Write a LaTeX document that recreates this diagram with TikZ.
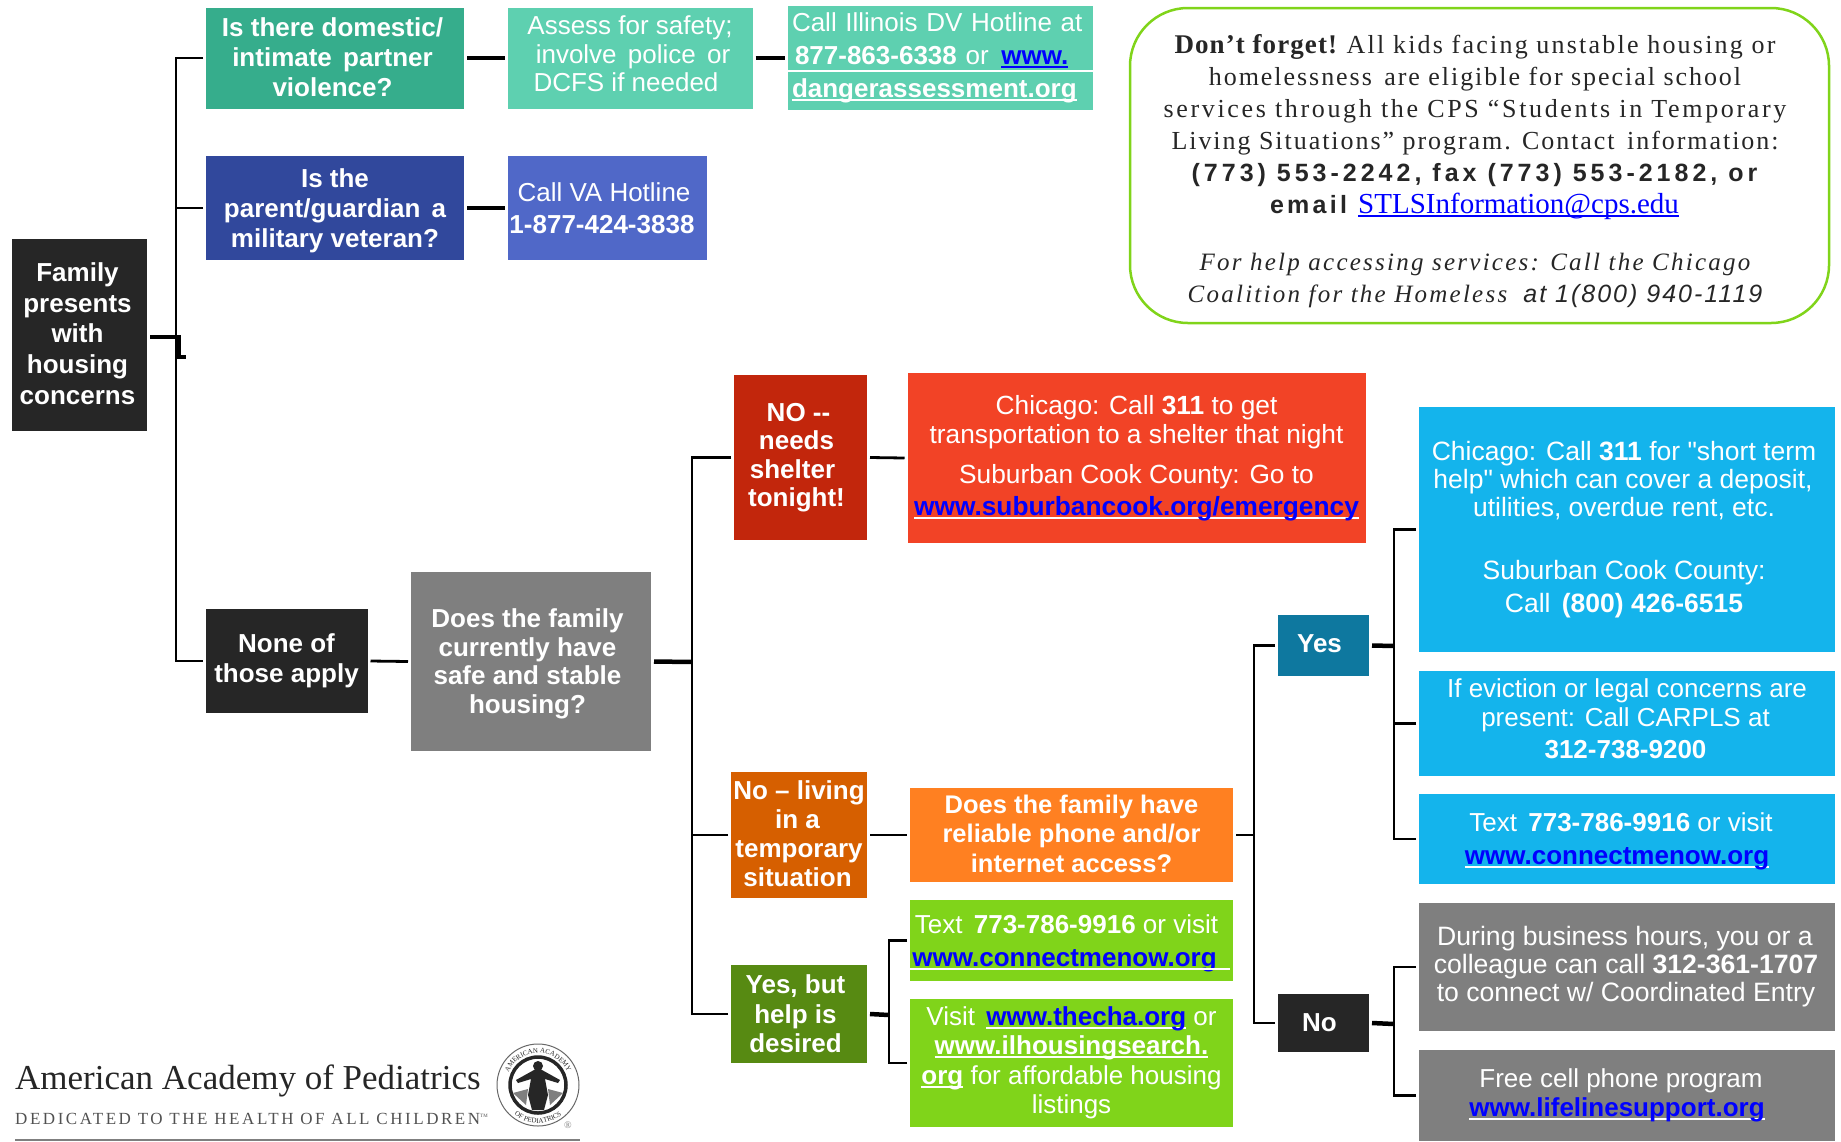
\documentclass[tikz,border=0pt]{standalone}
\usepackage{fontspec}
\setmainfont{Liberation Sans}
\newfontfamily\serifnote{Liberation Serif}
\newfontfamily\serifspaced[LetterSpace=8.5]{Liberation Serif}
\newfontfamily\sansspaced[LetterSpace=16]{Liberation Sans}
\usetikzlibrary{positioning,calc,decorations.text}
\definecolor{tealdark}{HTML}{36AD8C}
\definecolor{teallight}{HTML}{5ED0B0}
\definecolor{navydark}{HTML}{31489C}
\definecolor{navylight}{HTML}{5068C8}
\definecolor{inkblack}{HTML}{262626}
\definecolor{midgray}{HTML}{7F7F7F}
\definecolor{reddark}{HTML}{C2260C}
\definecolor{redlight}{HTML}{F24326}
\definecolor{orangedark}{HTML}{D65F00}
\definecolor{orangelight}{HTML}{FF8021}
\definecolor{greendark}{HTML}{578A12}
\definecolor{greenlight}{HTML}{80D41A}
\definecolor{bluedark}{HTML}{0E789F}
\definecolor{bluelight}{HTML}{14B4EC}
\definecolor{linkblue}{HTML}{0000FF}
\newcommand{\boxfont}[2]{\fontsize{#1}{#2}\selectfont}
\newcommand{\widegap}{\hspace{4pt} }
\newcommand{\lineleft}[1]{\rule{#1pt}{0pt}}
\newcommand{\droptext}[1]{\rule[-#1pt]{0pt}{0pt}}
\newcommand{\risetext}[1]{\rule{0pt}{#1pt}}
\newsavebox{\linkbox}
\newcommand{\weblink}[2][white]{\sbox{\linkbox}{#2}\leavevmode\rlap{\textcolor{#1}{\rule[-3.5pt]{\wd\linkbox}{2pt}}}\usebox{\linkbox}}
\newcommand{\bluelink}[2][white]{\weblink[#1]{\textcolor{linkblue}{#2}}}

\begin{document}
\begin{tikzpicture}[x=1pt,y=-1pt]
\tikzset{
    headbox/.style={rectangle, inner sep=0pt, outer sep=3pt, text=white, align=center, font=\boxfont{26}{30}\bfseries},
    infobox/.style={rectangle, inner sep=0pt, outer sep=3pt, text=white, align=center, font=\boxfont{26}{30}},
    boxsize/.style 2 args={minimum width=#1, minimum height=#2},
    wire/.style={draw=black, line width=2.8pt},
    thickwire/.style={draw=black, line width=3.2pt},
    heavywire/.style={draw=black, line width=4.5pt},
    logotext/.style={inner sep=0pt, text=inkblack, anchor=base west}
}
\useasboundingbox (0,0) rectangle (1841,1141);

\node[headbox, fill=inkblack, boxsize={135}{192}, font=\boxfont{26}{30.7}\bfseries] (family) at (79.5,335) {Family\lineleft{4}\\presents\lineleft{4}\\with\lineleft{4}\\housing\lineleft{4}\\concerns\lineleft{4}\droptext{3}};

\node[headbox, fill=tealdark, boxsize={258}{101}] (ipv) at (335,58) {Is there domestic/\lineleft{5}\\intimate\widegap partner\lineleft{5}\\violence?\lineleft{5}\droptext{2}};
\node[infobox, fill=teallight, boxsize={245}{101}, font=\boxfont{26}{28.5}] (assess) at (630,58) {Assess for safety;\\\lineleft{6}involve\widegap police\widegap or\\DCFS if needed\lineleft{8}\droptext{8}};
\node[infobox, fill=teallight, boxsize={305}{104}, align=left, text width=297pt, font=\boxfont{26}{33}] (dvhot) at (940.5,58) {Call Illinois DV Hotline at\\\hspace*{3pt}\textbf{877-863-6338} or\widegap \textbf{\bluelink[linkblue]{www.}}\\\textbf{\weblink{dangerassessment.org}}};

\node[headbox, fill=navydark, boxsize={258}{104}] (vet) at (335,208) {\risetext{24}Is the\\parent/guardian\widegap a\\military veteran?};
\node[infobox, fill=navylight, boxsize={199}{104}, font=\boxfont{26}{31.5}] (vahot) at (607,208) {Call VA Hotline\lineleft{6}\\\textbf{1-877-424-3838}\lineleft{10}};

\node[draw=greenlight, line width=2.5pt, rounded corners=58pt, fill=white, boxsize={699}{315}, inner sep=0pt, text=inkblack, align=center, font=\boxfont{26}{32}] (reminder) at (1479.5,165.5) {\risetext{30}{\serifspaced\bfseries\boxfont{27}{32}\addfontfeature{LetterSpace=4} Don’t forget!} {\serifspaced All kids facing unstable housing or}\lineleft{9}\\{\serifspaced\addfontfeature{LetterSpace=7.5} homelessness\widegap are eligible for special school}\lineleft{9}\\{\serifspaced\addfontfeature{LetterSpace=10.2} services through the CPS “Students in Temporary}\lineleft{9}\\{\serifspaced\addfontfeature{LetterSpace=7.5} Living Situations” program. Contact\widegap information:}\lineleft{9}\\{\sansspaced\bfseries\boxfont{25}{32}(773) 553-2242, fax (773) 553-2182, or}\lineleft{10}\\{\sansspaced\bfseries\boxfont{25}{32}\addfontfeature{LetterSpace=13} email} \hspace{4pt}{\serifnote\boxfont{29}{32}\bluelink[linkblue]{STLSInformation@cps.edu}}\lineleft{10}\\[25pt]{\serifspaced\itshape\boxfont{25}{32}\addfontfeature{LetterSpace=9} For help accessing services: Call the Chicago}\lineleft{9}\\{\serifspaced\itshape\boxfont{25}{32}\addfontfeature{LetterSpace=9} Coalition for the Homeless} {\itshape\addfontfeature{LetterSpace=8}\boxfont{25}{32} at 1(800) 940-1119}\lineleft{9}};

\node[headbox, fill=inkblack, boxsize={162}{104}] (none) at (286.5,661) {None of\\those apply};
\node[headbox, fill=midgray, boxsize={240}{179}, font=\boxfont{26}{28.5}\bfseries] (housing) at (531,661.5) {\risetext{23}Does the family\lineleft{7}\\currently have\lineleft{7}\\safe and stable\lineleft{7}\\housing?\lineleft{7}};

\node[headbox, fill=reddark, boxsize={133}{165}, font=\boxfont{26}{28.5}\bfseries] (shelter) at (800.5,457.5) {NO {-}{-}\lineleft{4}\\needs\lineleft{8}\\shelter\lineleft{16}\\tonight!\lineleft{8}};
\node[infobox, fill=redlight, boxsize={458}{170}, font=\boxfont{26.3}{29}] (emergency) at (1136.5,458) {Chicago: Call \textbf{311} to get\\transportation to a shelter that night\\[11pt]Suburban Cook County: Go to\\[3pt]\textbf{\bluelink{www.suburbancook.org/emergency}}};

\node[headbox, fill=orangedark, boxsize={136}{126}, font=\boxfont{26}{29}\bfseries] (temp) at (799,835) {No – living\\in a\lineleft{3}\\temporary\\situation\lineleft{3}\droptext{3}};
\node[headbox, fill=orangelight, boxsize={323}{94}, font=\boxfont{25.5}{29.5}\bfseries] (phone) at (1071.5,835) {Does the family have\\reliable phone and/or\\internet access?\droptext{3}};

\node[headbox, fill=greendark, boxsize={136}{98}, font=\boxfont{26}{29.5}\bfseries] (help) at (799,1014) {Yes, but\lineleft{7}\\help is\lineleft{7}\\desired\lineleft{7}};
\node[infobox, fill=greenlight, boxsize={323}{81}, font=\boxfont{26}{33}] (textgreen) at (1071.5,940.5) {\risetext{24}Text\widegap \textbf{773-786-9916} or visit\lineleft{10}\\\textbf{\bluelink[linkblue]{www.connectmenow.org}}\lineleft{14}};
\node[infobox, fill=greenlight, boxsize={323}{128}, font=\boxfont{26}{29.5}] (visit) at (1071.5,1063) {Visit\widegap \textbf{\bluelink{www.thecha.org}} or\\\textbf{\weblink{www.ilhousingsearch.}}\\\textbf{\weblink{org}} for affordable housing\\listings};

\node[headbox, fill=bluedark, boxsize={91}{61}] (yes) at (1323.5,645.5) {Yes\lineleft{8}\droptext{3}};
\node[headbox, fill=inkblack, boxsize={91}{58}] (no) at (1323.5,1023) {No\lineleft{8}};

\node[infobox, fill=bluelight, boxsize={416}{245}, font=\boxfont{26.5}{28}] (shortterm) at (1627,529.5) {Chicago: Call \textbf{311} for \textquotedbl short term\lineleft{6}\\help\textquotedbl{} which can cover a deposit,\lineleft{8}\\utilities, overdue rent, etc.\lineleft{6}\\[35pt]Suburban Cook County:\lineleft{6}\\[5pt]Call\widegap \textbf{(800) 426-6515}\lineleft{6}};
\node[infobox, fill=bluelight, boxsize={416}{105}, font=\boxfont{26}{29.5}] (carpls) at (1627,723.5) {If eviction or legal concerns are\\present: Call CARPLS at\lineleft{3}\\[2pt]\textbf{312-738-9200}\lineleft{3}\droptext{10}};
\node[infobox, fill=bluelight, boxsize={416}{90}, font=\boxfont{26}{33}] (textblue) at (1627,839) {\risetext{24}Text\widegap \textbf{773-786-9916} or visit\lineleft{12}\\\textbf{\bluelink{www.connectmenow.org}}\lineleft{20}};

\node[infobox, fill=midgray, boxsize={416}{128}, font=\boxfont{26.6}{28}] (hours) at (1627,967) {During business hours, you or a\lineleft{4}\\colleague can call \textbf{312-361-1707}\lineleft{2}\\to connect w/ Coordinated Entry\lineleft{2}};
\node[infobox, fill=midgray, boxsize={416}{91}, font=\boxfont{26}{29}] (lifeline) at (1627,1095.5) {Free cell phone program\lineleft{12}\\\textbf{\bluelink{www.lifelinesupport.org}}\lineleft{20}};

\coordinate (rootjoin) at (176,337);
\coordinate (rootstub) at (186,357);
\coordinate (housingjoin) at (692,662);
\coordinate (phonejoin) at (1254,835);
\coordinate (yesjoin) at (1394,646);
\coordinate (nojoin) at (1394,1024);
\coordinate (helpjoin) at (889,1015);

\draw[heavywire] (family.east |- rootjoin) -- (rootjoin);
\draw[thickwire] (rootjoin) -- ++(3,0) |- (rootstub);
\draw[wire] (ipv.west) -| (rootjoin);
\draw[wire] (vet.west) -- (vet.west -| rootjoin);
\draw[wire] (none.west) -| (rootjoin);
\draw[thickwire] (ipv.east) -- (assess.west);
\draw[thickwire] (assess.east) -- (dvhot.west);
\draw[thickwire] (vet.east) -- (vahot.west);
\draw[wire] (none.east) -- (housing.west);
\draw[heavywire] (housing.east) -- (housingjoin);
\draw[wire] (shelter.west) -| (housingjoin);
\draw[wire] (temp.west) -- (temp.west -| housingjoin);
\draw[wire] (help.west) -| (housingjoin);
\draw[wire] (shelter.east) -- (emergency.west);
\draw[wire] (temp.east) -- (phone.west);
\draw[heavywire] (help.east) -- (helpjoin);
\draw[wire] (textgreen.west) -| (helpjoin);
\draw[wire] (visit.west) -| (helpjoin);
\draw[wire] (phone.east) -- (phonejoin);
\draw[wire] (yes.west) -| (phonejoin);
\draw[wire] (no.west) -| (phonejoin);
\draw[heavywire] (yes.east) -- (yesjoin);
\draw[wire] (shortterm.west) -| (yesjoin);
\draw[wire] (carpls.west) -- (carpls.west -| yesjoin);
\draw[wire] (textblue.west) -| (yesjoin);
\draw[heavywire] (no.east) -- (nojoin);
\draw[wire] (hours.west) -| (nojoin);
\draw[wire] (lifeline.west) -| (nojoin);

\draw[white, line width=2.5pt] (dvhot.west |- 0,71) -- (dvhot.east |- 0,71);
\draw[white, line width=2pt] (910,968.5) -- (1230,968.5);

\node[logotext, font=\serifnote\boxfont{35}{36}] (aaptitle) at (15,1089) {American Academy of Pediatrics};
\node[logotext, font=\serifnote\boxfont{17}{17}, text=inkblack!80] (aapmotto) at (15,1124) {{\addfontfeature{LetterSpace=15}DEDICATED TO THE HEALTH OF ALL CHILDREN}\textsuperscript{\tiny TM}};
\node[logotext, font=\serifnote\boxfont{10}{10}, text=midgray] (aapmark) at (564,1128) {®};
\draw[midgray, line width=1.5pt] (15,1140) -- (580,1140);

\begin{scope}[shift={(538,1085)}, x=1pt, y=1pt]
\draw[inkblack!70, line width=1pt] (0,0) circle (41);
\draw[inkblack, line width=3.5pt, fill=white] (0,0) circle (28);
\path[postaction={decorate, decoration={text along path, text align=center, text={|\serifnote\boxfont{7}{7}\color{inkblack}|AMERICAN ACADEMY}}}] (165:32) arc (165:15:32);
\path[postaction={decorate, decoration={text along path, text align=center, text={|\serifnote\boxfont{7}{7}\color{inkblack}|OF PEDIATRICS}}}] (215:38) arc (215:325:38);
\fill[inkblack] (0,19) circle (5);
\fill[inkblack] (-4,15) -- (4,15) -- (22,5) -- (20,2) -- (7,6) -- (10,-10) -- (6,-25) -- (-6,-25) -- (-10,-10) -- (-7,6) -- (-20,2) -- (-22,5) -- cycle;
\fill[midgray] (-25,-8) -- (-10,-4) -- (-12,-20) -- cycle;
\fill[midgray] (25,-8) -- (10,-4) -- (12,-20) -- cycle;
\end{scope}
\end{tikzpicture}
\end{document}
